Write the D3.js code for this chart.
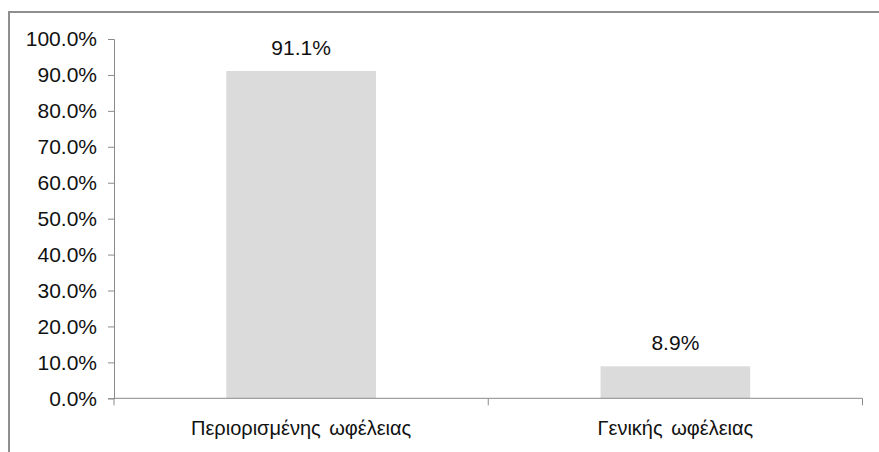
<!DOCTYPE html>
<html>
<head>
<meta charset="utf-8">
<script src="https://cdn.jsdelivr.net/npm/d3@7"></script>
<style>
  body { margin: 0; background: #fff; }
  svg { display: block; }
</style>
</head>
<body>
<div id="chart"></div>
<script>
// data
const categories = ["Περιορισμένης ωφέλειας", "Γενικής ωφέλειας"];
const values = [91.1, 8.9];
const yTicks = [0, 10, 20, 30, 40, 50, 60, 70, 80, 90, 100];

const W = 879, H = 452;
const margin = { top: 39, right: 16.5, bottom: 53.7, left: 114 },
    width = W - margin.left - margin.right,
    height = H - margin.top - margin.bottom;

const root = d3.select("#chart")
    .append("svg")
    .attr("width", W)
    .attr("height", H);

// outer frame (only top and left show inside the picture)
root.append("rect")
    .attr("x", 9).attr("y", 12)
    .attr("width", W + 20).attr("height", H + 20)
    .attr("fill", "none")
    .attr("stroke", "#8e8e8e")
    .attr("stroke-width", 2);

const svg = root.append("g")
    .attr("transform", `translate(${margin.left},${margin.top})`);

const xScale = d3.scaleBand().range([0, width]).domain(categories);
const yScale = d3.scaleLinear().range([height, 0]).domain([0, 100]);

const barW = xScale.bandwidth() * 0.4;

// bars
svg.selectAll(".bar")
    .data(categories)
    .join("rect")
    .attr("class", "bar")
    .attr("x", (d) => xScale(d) + (xScale.bandwidth() - barW) / 2)
    .attr("y", (d, i) => yScale(values[i]))
    .attr("width", barW)
    .attr("height", (d, i) => height - yScale(values[i]))
    .attr("fill", "#dbdbdb");

// value labels
svg.selectAll(".val")
    .data(categories)
    .join("text")
    .attr("class", "val")
    .attr("x", (d) => xScale(d) + xScale.bandwidth() / 2)
    .attr("y", (d, i) => yScale(values[i]) - 16)
    .attr("text-anchor", "middle")
    .attr("font-family", "Liberation Sans, Arial, sans-serif")
    .attr("font-size", 21)
    .attr("fill", "#111")
    .text((d, i) => d3.format(".1f")(values[i]) + "%");

// y axis
const yAxis = d3.axisLeft(yScale)
    .tickValues(yTicks)
    .tickSize(6)
    .tickPadding(11)
    .tickFormat((d) => d3.format(".1f")(d) + "%");

svg.append("g")
    .attr("class", "y-axis")
    .call(yAxis)
    .call((g) => g.selectAll("path, line").attr("stroke", "#8a8a8a"))
    .call((g) => g.selectAll("text")
        .attr("font-family", "Liberation Sans, Arial, sans-serif")
        .attr("font-size", 21)
        .attr("fill", "#111"));

// x axis: line plus ticks on category boundaries
const xg = svg.append("g")
    .attr("class", "x-axis")
    .attr("transform", `translate(0, ${height})`);

xg.append("line")
    .attr("x1", 0).attr("x2", width)
    .attr("stroke", "#8a8a8a");

const bounds = categories.map((d) => xScale(d)).concat([width]);
xg.selectAll(".xt")
    .data(bounds)
    .join("line")
    .attr("class", "xt")
    .attr("x1", (d) => d).attr("x2", (d) => d)
    .attr("y1", 0).attr("y2", 7)
    .attr("stroke", "#8a8a8a");

xg.selectAll(".cat")
    .data(categories)
    .join("text")
    .attr("class", "cat")
    .attr("x", (d) => xScale(d) + xScale.bandwidth() / 2)
    .attr("y", 37)
    .attr("text-anchor", "middle")
    .attr("font-family", "Liberation Sans Narrow, Arial Narrow, Liberation Sans, sans-serif")
    .attr("font-size", 20)
    .attr("fill", "#111")
    .attr("word-spacing", 3)
    .text((d) => d);
</script>
</body>
</html>
